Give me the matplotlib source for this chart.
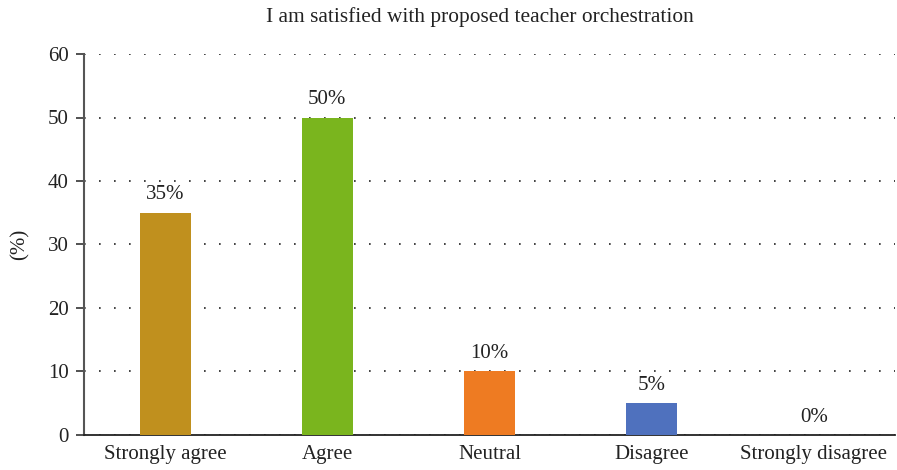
import matplotlib
matplotlib.use("Agg")
import matplotlib.pyplot as plt

categories = ["Strongly agree", "Agree", "Neutral", "Disagree", "Strongly disagree"]
values = [35, 50, 10, 5, 0]
colors = ["#C0901E", "#7AB51E", "#EE7B22", "#4F71BE", "#9E9E9E"]
yticks = [0, 10, 20, 30, 40, 50, 60]
title = "I am satisfied with proposed teacher orchestration"

plt.rcParams["font.family"] = ["Liberation Serif", "DejaVu Serif"]

fig = plt.figure(figsize=(8.97, 4.70), dpi=100)
ax = fig.add_axes([0.0936, 0.0745, 0.904, 0.8106])

x = list(range(len(categories)))
bars = ax.bar(x, values, width=0.315, color=colors, zorder=3)

for xi, v in zip(x, values):
    ax.annotate(f"{v}%", (xi, v), xytext=(0, 6), textcoords="offset points",
                ha="center", va="bottom", fontsize=15, color="#222222")

ax.set_xlim(-0.5, 4.5)
ax.set_ylim(0, 60)
ax.set_yticks(yticks)
ax.set_xticks(x)
ax.set_xticklabels(categories)
ax.tick_params(axis="x", length=0, pad=7, labelsize=15, labelcolor="#222222")
ax.tick_params(axis="y", length=6, width=1.2, color="#333333", pad=5,
               labelsize=15, labelcolor="#222222")

ax.yaxis.grid(True, linestyle=(0, (1, 8)), linewidth=1.2, color="#222222", zorder=0)
ax.set_axisbelow(True)

for side in ("top", "right"):
    ax.spines[side].set_visible(False)
ax.spines["left"].set_color("#555555")
ax.spines["left"].set_linewidth(1.5)
ax.spines["bottom"].set_color("#222222")
ax.spines["bottom"].set_linewidth(1.3)

ax.set_ylabel("(%)", fontsize=15, color="#222222", labelpad=13)
fig.text(0.535, 0.963, title, ha="center", va="center", fontsize=15.4, color="#222222")

fig.savefig("out.png", dpi=100)
